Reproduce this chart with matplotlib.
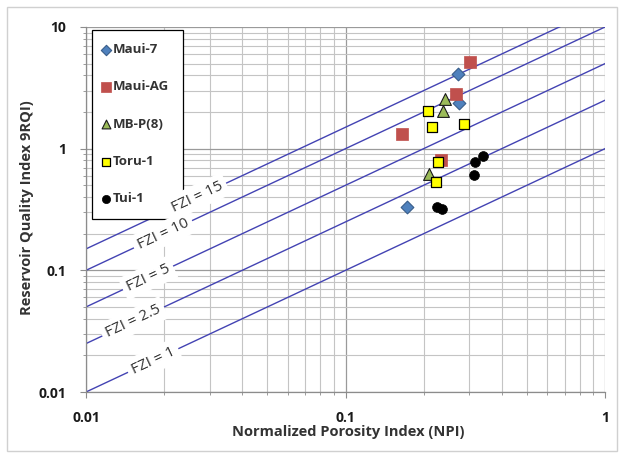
import numpy as np
import matplotlib
matplotlib.use("Agg")
import matplotlib.pyplot as plt
from matplotlib.patches import Rectangle
from matplotlib.ticker import LogLocator, NullFormatter

plt.rcParams['font.family'] = ['Open Sans', 'DejaVu Sans']

# ---- data ----
series_names = ["Maui-7", "Maui-AG", "MB-P(8)", "Toru-1", "Tui-1"]
maui7_x = [0.272, 0.273, 0.173]
maui7_y = [4.13, 2.39, 0.33]
mauiag_x = [0.302, 0.267, 0.165, 0.233]
mauiag_y = [5.16, 2.80, 1.33, 0.80]
mbp_x = [0.242, 0.238, 0.210]
mbp_y = [2.56, 2.03, 0.62]
toru_x = [0.208, 0.215, 0.286, 0.227, 0.224]
toru_y = [2.05, 1.51, 1.60, 0.78, 0.53]
tui_x = [0.339, 0.315, 0.314, 0.2245, 0.236]
tui_y = [0.865, 0.772, 0.608, 0.33, 0.321]

fzi_values = [15, 10, 5, 2.5, 1]
fzi_labels = ["FZI = 15", "FZI = 10", "FZI = 5", "FZI = 2.5", "FZI = 1"]
fzi_label_x = [0.0268, 0.0198, 0.01734, 0.0152, 0.01815]

x_ticks = [0.01, 0.1, 1]
x_ticklabels = ["0.01", "0.1", "1"]
y_ticks = [0.01, 0.1, 1, 10]
y_ticklabels = ["0.01", "0.1", "1", "10"]

W, H = 621, 454
fig = plt.figure(figsize=(W/100, H/100), dpi=100)
ax = fig.add_axes([86/W, 1-392/H, (605-86)/W, (392-27)/H])
ax.set_xscale('log')
ax.set_yscale('log')
ax.set_xlim(0.01, 1)
ax.set_ylim(0.01, 10)

# grid
ax.xaxis.set_minor_locator(LogLocator(base=10, subs=np.arange(2, 10)))
ax.yaxis.set_minor_locator(LogLocator(base=10, subs=np.arange(2, 10)))
ax.xaxis.set_minor_formatter(NullFormatter())
ax.yaxis.set_minor_formatter(NullFormatter())
ax.grid(which='major', color='#9a9a9a', lw=0.9)
ax.grid(which='minor', color='#c4c4c4', lw=0.8)
ax.set_axisbelow(True)

for s in ['top', 'right']:
    ax.spines[s].set_visible(False)
for s in ['left', 'bottom']:
    ax.spines[s].set_color('#8c8c8c')
    ax.spines[s].set_linewidth(0.9)

ax.set_xticks(x_ticks)
ax.set_xticklabels(x_ticklabels)
ax.set_yticks(y_ticks)
ax.set_yticklabels(y_ticklabels)
ax.tick_params(which='major', direction='out', length=4, color='#8c8c8c',
               labelsize=10, labelcolor='#1a1a1a')
ax.tick_params(axis='x', which='major', pad=10)
ax.tick_params(axis='y', which='major', pad=10)
ax.tick_params(which='minor', direction='out', length=2, color='#8c8c8c')
for lab in ax.get_xticklabels() + ax.get_yticklabels():
    lab.set_fontweight('bold')

fig.text(348/W, 1-432/H, "Normalized Porosity Index (NPI)", fontsize=10.5,
         fontweight='bold', color='#333333', ha='center', va='center')
fig.text(27/W, 1-208/H, "Reservoir Quality Index 9RQI)", fontsize=10.5,
         fontweight='bold', color='#333333', ha='center', va='center', rotation=90)

# FZI lines
line_color = '#4343b3'
xs = np.array([0.01, 1.0])
for fzi in fzi_values:
    ax.plot(xs, fzi * xs, color=line_color, lw=1.0, zorder=2, clip_on=True)

fig.canvas.draw()
for fzi, lab, lx in zip(fzi_values, fzi_labels, fzi_label_x):
    p1 = ax.transData.transform((0.01, 0.01 * fzi))
    p2 = ax.transData.transform((1.0, 1.0 * fzi))
    ang = np.degrees(np.arctan2(p2[1] - p1[1], p2[0] - p1[0]))
    ax.text(lx, fzi * lx, lab, rotation=ang, rotation_mode='anchor',
            ha='center', va='center', fontsize=11, color='#333333', zorder=6,
            bbox=dict(boxstyle='square,pad=0.3', fc='white', ec='none'))

# data series
ax.scatter(maui7_x, maui7_y, marker='D', s=42, c='#4f81bd', edgecolors='#385d8a',
           linewidths=0.8, zorder=4, label=series_names[0])
ax.scatter(mauiag_x, mauiag_y, marker='s', s=82, c='#c0504d', edgecolors='#c0504d',
           linewidths=0.5, zorder=4, label=series_names[1])
ax.scatter(mbp_x, mbp_y, marker='^', s=72, c='#9bbb59', edgecolors='#1a1a1a',
           linewidths=0.8, zorder=4, label=series_names[2])
ax.scatter(toru_x, toru_y, marker='s', s=46, c='#ffff00', edgecolors='#000000',
           linewidths=0.9, zorder=4, label=series_names[3])
ax.scatter(tui_x, tui_y, marker='o', s=50, c='#000000', edgecolors='#000000',
           linewidths=0.5, zorder=4, label=series_names[4])

leg = ax.legend(loc='upper left', bbox_to_anchor=(6/519, 1 - 3/365), frameon=True,
                fancybox=False, edgecolor='#000000', framealpha=1, borderpad=1.0,
                labelspacing=1.84, handletextpad=0.45, handlelength=0.15,
                borderaxespad=0, scatterpoints=1,
                prop={'size': 9.5, 'weight': 'bold'})
leg.get_frame().set_linewidth(0.9)
for h, sz in zip(leg.legend_handles, [28, 45, 40, 40, 35]):
    h.set_sizes([sz])
for t in leg.get_texts():
    t.set_color('#333333')
leg.set_zorder(5)

# outer border
fig.patches.append(Rectangle((7/W, 3/H), (617-7)/W, (447-3)/H, transform=fig.transFigure,
                             fill=False, ec='#d0d0d0', lw=1.0))

fig.savefig("out.png", dpi=100)
